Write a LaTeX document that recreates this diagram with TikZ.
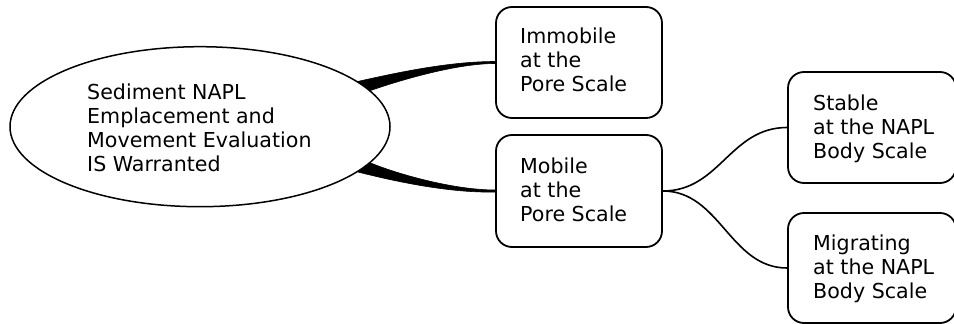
\documentclass[tikz,border=0pt]{standalone}
\usepackage{fontspec}
\setmainfont{DejaVu Sans}
\usetikzlibrary{shapes.geometric}
\begin{document}
\begin{tikzpicture}[x=1pt,y=-1pt,
  box/.style={draw, line width=1.8pt, rounded corners=16pt, minimum width=166pt, inner sep=0pt},
  txt/.style={anchor=west, align=left, inner sep=0pt, font=\fontsize{20.6}{24}\selectfont},
  link/.style={line width=1.6pt},
  wedge/.style={fill=black, draw=black, line width=0.6pt, line join=round}]
\useasboundingbox (0,0) rectangle (954,324);
\node[ellipse, draw, line width=1.5pt, minimum width=380pt, minimum height=160pt, inner sep=0pt] (ell) at (200,126.7) {};
\node[box, minimum height=111pt] (imm) at (579,62.5) {};
\node[box, minimum height=112pt] (mob) at (579,191) {};
\node[box, minimum height=111pt, minimum width=168pt] (stab) at (872,127.5) {};
\node[box, minimum height=110pt, minimum width=168pt] (mig) at (872,268) {};
\node[txt] (ellt) at (87,128) {Sediment NAPL\\Emplacement and\\Movement Evaluation\\IS Warranted};
\node[txt] (immt) at (520,59.7) {Immobile\\at the\\Pore Scale};
\node[txt] (mobt) at (520,189.7) {Mobile\\at the\\Pore Scale};
\node[txt] (stabt) at (813,128.8) {Stable\\at the NAPL\\Body Scale};
\node[txt] (migt) at (813,268.8) {Migrating\\at the NAPL\\Body Scale};
\filldraw[wedge] (ell.16) .. controls (400,72) and (450,61.5) .. ([yshift=1pt]imm.west) -- ([yshift=-1pt]imm.west) .. controls (460,63.5) and (410,77) .. (ell.12) -- cycle;
\filldraw[wedge] (ell.-12) .. controls (400,175) and (455,190) .. ([yshift=1pt]mob.west) -- ([yshift=-1pt]mob.west) .. controls (455,193) and (405,184) .. (ell.-16) -- cycle;
\draw[link] (mob.east) .. controls (720,191) and (730,127.5) .. (stab.west);
\draw[link] (mob.east) .. controls (720,191) and (730,268) .. (mig.west);
\end{tikzpicture}
\end{document}
